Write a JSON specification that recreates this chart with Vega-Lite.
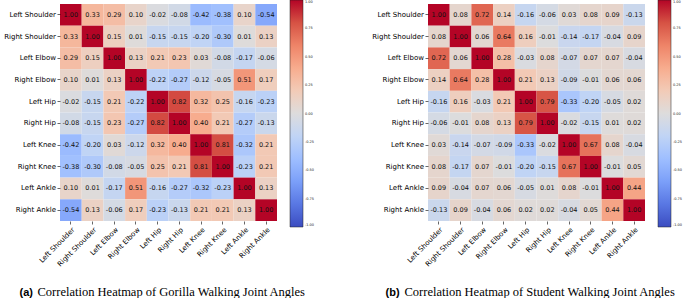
{
  "$schema": "https://vega.github.io/schema/vega-lite/v6.json",
  "padding": {"left": 3, "top": 0, "right": 0, "bottom": 0},
  "background": "white",
  "config": {
    "view": {"stroke": null},
    "locale": {"number": {"decimal": ".", "thousands": ",", "grouping": [3], "currency": ["$", ""], "minus": "-"}},
    "axis": {"labelFont": "DejaVu Sans", "labelFontSize": 7, "labelColor": "black", "tickColor": "black", "tickSize": 3, "tickWidth": 0.6, "domain": false, "labelPadding": 1.5, "grid": false},
    "concat": {"spacing": 56}
  },
  "datasets": {
    "gorilla": [
      {"r":"Left Shoulder","c":"Left Shoulder","v":1.00},{"r":"Left Shoulder","c":"Right Shoulder","v":0.33},{"r":"Left Shoulder","c":"Left Elbow","v":0.29},{"r":"Left Shoulder","c":"Right Elbow","v":0.10},{"r":"Left Shoulder","c":"Left Hip","v":-0.02},{"r":"Left Shoulder","c":"Right Hip","v":-0.08},{"r":"Left Shoulder","c":"Left Knee","v":-0.42},{"r":"Left Shoulder","c":"Right Knee","v":-0.38},{"r":"Left Shoulder","c":"Left Ankle","v":0.10},{"r":"Left Shoulder","c":"Right Ankle","v":-0.54},
      {"r":"Right Shoulder","c":"Left Shoulder","v":0.33},{"r":"Right Shoulder","c":"Right Shoulder","v":1.00},{"r":"Right Shoulder","c":"Left Elbow","v":0.15},{"r":"Right Shoulder","c":"Right Elbow","v":0.01},{"r":"Right Shoulder","c":"Left Hip","v":-0.15},{"r":"Right Shoulder","c":"Right Hip","v":-0.15},{"r":"Right Shoulder","c":"Left Knee","v":-0.20},{"r":"Right Shoulder","c":"Right Knee","v":-0.30},{"r":"Right Shoulder","c":"Left Ankle","v":0.01},{"r":"Right Shoulder","c":"Right Ankle","v":0.13},
      {"r":"Left Elbow","c":"Left Shoulder","v":0.29},{"r":"Left Elbow","c":"Right Shoulder","v":0.15},{"r":"Left Elbow","c":"Left Elbow","v":1.00},{"r":"Left Elbow","c":"Right Elbow","v":0.13},{"r":"Left Elbow","c":"Left Hip","v":0.21},{"r":"Left Elbow","c":"Right Hip","v":0.23},{"r":"Left Elbow","c":"Left Knee","v":0.03},{"r":"Left Elbow","c":"Right Knee","v":-0.08},{"r":"Left Elbow","c":"Left Ankle","v":-0.17},{"r":"Left Elbow","c":"Right Ankle","v":-0.06},
      {"r":"Right Elbow","c":"Left Shoulder","v":0.10},{"r":"Right Elbow","c":"Right Shoulder","v":0.01},{"r":"Right Elbow","c":"Left Elbow","v":0.13},{"r":"Right Elbow","c":"Right Elbow","v":1.00},{"r":"Right Elbow","c":"Left Hip","v":-0.22},{"r":"Right Elbow","c":"Right Hip","v":-0.27},{"r":"Right Elbow","c":"Left Knee","v":-0.12},{"r":"Right Elbow","c":"Right Knee","v":-0.05},{"r":"Right Elbow","c":"Left Ankle","v":0.51},{"r":"Right Elbow","c":"Right Ankle","v":0.17},
      {"r":"Left Hip","c":"Left Shoulder","v":-0.02},{"r":"Left Hip","c":"Right Shoulder","v":-0.15},{"r":"Left Hip","c":"Left Elbow","v":0.21},{"r":"Left Hip","c":"Right Elbow","v":-0.22},{"r":"Left Hip","c":"Left Hip","v":1.00},{"r":"Left Hip","c":"Right Hip","v":0.82},{"r":"Left Hip","c":"Left Knee","v":0.32},{"r":"Left Hip","c":"Right Knee","v":0.25},{"r":"Left Hip","c":"Left Ankle","v":-0.16},{"r":"Left Hip","c":"Right Ankle","v":-0.23},
      {"r":"Right Hip","c":"Left Shoulder","v":-0.08},{"r":"Right Hip","c":"Right Shoulder","v":-0.15},{"r":"Right Hip","c":"Left Elbow","v":0.23},{"r":"Right Hip","c":"Right Elbow","v":-0.27},{"r":"Right Hip","c":"Left Hip","v":0.82},{"r":"Right Hip","c":"Right Hip","v":1.00},{"r":"Right Hip","c":"Left Knee","v":0.40},{"r":"Right Hip","c":"Right Knee","v":0.21},{"r":"Right Hip","c":"Left Ankle","v":-0.27},{"r":"Right Hip","c":"Right Ankle","v":-0.13},
      {"r":"Left Knee","c":"Left Shoulder","v":-0.42},{"r":"Left Knee","c":"Right Shoulder","v":-0.20},{"r":"Left Knee","c":"Left Elbow","v":0.03},{"r":"Left Knee","c":"Right Elbow","v":-0.12},{"r":"Left Knee","c":"Left Hip","v":0.32},{"r":"Left Knee","c":"Right Hip","v":0.40},{"r":"Left Knee","c":"Left Knee","v":1.00},{"r":"Left Knee","c":"Right Knee","v":0.81},{"r":"Left Knee","c":"Left Ankle","v":-0.32},{"r":"Left Knee","c":"Right Ankle","v":0.21},
      {"r":"Right Knee","c":"Left Shoulder","v":-0.38},{"r":"Right Knee","c":"Right Shoulder","v":-0.30},{"r":"Right Knee","c":"Left Elbow","v":-0.08},{"r":"Right Knee","c":"Right Elbow","v":-0.05},{"r":"Right Knee","c":"Left Hip","v":0.25},{"r":"Right Knee","c":"Right Hip","v":0.21},{"r":"Right Knee","c":"Left Knee","v":0.81},{"r":"Right Knee","c":"Right Knee","v":1.00},{"r":"Right Knee","c":"Left Ankle","v":-0.23},{"r":"Right Knee","c":"Right Ankle","v":0.21},
      {"r":"Left Ankle","c":"Left Shoulder","v":0.10},{"r":"Left Ankle","c":"Right Shoulder","v":0.01},{"r":"Left Ankle","c":"Left Elbow","v":-0.17},{"r":"Left Ankle","c":"Right Elbow","v":0.51},{"r":"Left Ankle","c":"Left Hip","v":-0.16},{"r":"Left Ankle","c":"Right Hip","v":-0.27},{"r":"Left Ankle","c":"Left Knee","v":-0.32},{"r":"Left Ankle","c":"Right Knee","v":-0.23},{"r":"Left Ankle","c":"Left Ankle","v":1.00},{"r":"Left Ankle","c":"Right Ankle","v":0.13},
      {"r":"Right Ankle","c":"Left Shoulder","v":-0.54},{"r":"Right Ankle","c":"Right Shoulder","v":0.13},{"r":"Right Ankle","c":"Left Elbow","v":-0.06},{"r":"Right Ankle","c":"Right Elbow","v":0.17},{"r":"Right Ankle","c":"Left Hip","v":-0.23},{"r":"Right Ankle","c":"Right Hip","v":-0.13},{"r":"Right Ankle","c":"Left Knee","v":0.21},{"r":"Right Ankle","c":"Right Knee","v":0.21},{"r":"Right Ankle","c":"Left Ankle","v":0.13},{"r":"Right Ankle","c":"Right Ankle","v":1.00}
    ],
    "student": [
      {"r":"Left Shoulder","c":"Left Shoulder","v":1.00},{"r":"Left Shoulder","c":"Right Shoulder","v":0.08},{"r":"Left Shoulder","c":"Left Elbow","v":0.72},{"r":"Left Shoulder","c":"Right Elbow","v":0.14},{"r":"Left Shoulder","c":"Left Hip","v":-0.16},{"r":"Left Shoulder","c":"Right Hip","v":-0.06},{"r":"Left Shoulder","c":"Left Knee","v":0.03},{"r":"Left Shoulder","c":"Right Knee","v":0.08},{"r":"Left Shoulder","c":"Left Ankle","v":0.09},{"r":"Left Shoulder","c":"Right Ankle","v":-0.13},
      {"r":"Right Shoulder","c":"Left Shoulder","v":0.08},{"r":"Right Shoulder","c":"Right Shoulder","v":1.00},{"r":"Right Shoulder","c":"Left Elbow","v":0.06},{"r":"Right Shoulder","c":"Right Elbow","v":0.64},{"r":"Right Shoulder","c":"Left Hip","v":0.16},{"r":"Right Shoulder","c":"Right Hip","v":-0.01},{"r":"Right Shoulder","c":"Left Knee","v":-0.14},{"r":"Right Shoulder","c":"Right Knee","v":-0.17},{"r":"Right Shoulder","c":"Left Ankle","v":-0.04},{"r":"Right Shoulder","c":"Right Ankle","v":0.09},
      {"r":"Left Elbow","c":"Left Shoulder","v":0.72},{"r":"Left Elbow","c":"Right Shoulder","v":0.06},{"r":"Left Elbow","c":"Left Elbow","v":1.00},{"r":"Left Elbow","c":"Right Elbow","v":0.28},{"r":"Left Elbow","c":"Left Hip","v":-0.03},{"r":"Left Elbow","c":"Right Hip","v":0.08},{"r":"Left Elbow","c":"Left Knee","v":-0.07},{"r":"Left Elbow","c":"Right Knee","v":0.07},{"r":"Left Elbow","c":"Left Ankle","v":0.07},{"r":"Left Elbow","c":"Right Ankle","v":-0.04},
      {"r":"Right Elbow","c":"Left Shoulder","v":0.14},{"r":"Right Elbow","c":"Right Shoulder","v":0.64},{"r":"Right Elbow","c":"Left Elbow","v":0.28},{"r":"Right Elbow","c":"Right Elbow","v":1.00},{"r":"Right Elbow","c":"Left Hip","v":0.21},{"r":"Right Elbow","c":"Right Hip","v":0.13},{"r":"Right Elbow","c":"Left Knee","v":-0.09},{"r":"Right Elbow","c":"Right Knee","v":-0.01},{"r":"Right Elbow","c":"Left Ankle","v":0.06},{"r":"Right Elbow","c":"Right Ankle","v":0.06},
      {"r":"Left Hip","c":"Left Shoulder","v":-0.16},{"r":"Left Hip","c":"Right Shoulder","v":0.16},{"r":"Left Hip","c":"Left Elbow","v":-0.03},{"r":"Left Hip","c":"Right Elbow","v":0.21},{"r":"Left Hip","c":"Left Hip","v":1.00},{"r":"Left Hip","c":"Right Hip","v":0.79},{"r":"Left Hip","c":"Left Knee","v":-0.33},{"r":"Left Hip","c":"Right Knee","v":-0.20},{"r":"Left Hip","c":"Left Ankle","v":-0.05},{"r":"Left Hip","c":"Right Ankle","v":0.02},
      {"r":"Right Hip","c":"Left Shoulder","v":-0.06},{"r":"Right Hip","c":"Right Shoulder","v":-0.01},{"r":"Right Hip","c":"Left Elbow","v":0.08},{"r":"Right Hip","c":"Right Elbow","v":0.13},{"r":"Right Hip","c":"Left Hip","v":0.79},{"r":"Right Hip","c":"Right Hip","v":1.00},{"r":"Right Hip","c":"Left Knee","v":-0.02},{"r":"Right Hip","c":"Right Knee","v":-0.15},{"r":"Right Hip","c":"Left Ankle","v":0.01},{"r":"Right Hip","c":"Right Ankle","v":0.02},
      {"r":"Left Knee","c":"Left Shoulder","v":0.03},{"r":"Left Knee","c":"Right Shoulder","v":-0.14},{"r":"Left Knee","c":"Left Elbow","v":-0.07},{"r":"Left Knee","c":"Right Elbow","v":-0.09},{"r":"Left Knee","c":"Left Hip","v":-0.33},{"r":"Left Knee","c":"Right Hip","v":-0.02},{"r":"Left Knee","c":"Left Knee","v":1.00},{"r":"Left Knee","c":"Right Knee","v":0.67},{"r":"Left Knee","c":"Left Ankle","v":0.08},{"r":"Left Knee","c":"Right Ankle","v":-0.04},
      {"r":"Right Knee","c":"Left Shoulder","v":0.08},{"r":"Right Knee","c":"Right Shoulder","v":-0.17},{"r":"Right Knee","c":"Left Elbow","v":0.07},{"r":"Right Knee","c":"Right Elbow","v":-0.01},{"r":"Right Knee","c":"Left Hip","v":-0.20},{"r":"Right Knee","c":"Right Hip","v":-0.15},{"r":"Right Knee","c":"Left Knee","v":0.67},{"r":"Right Knee","c":"Right Knee","v":1.00},{"r":"Right Knee","c":"Left Ankle","v":-0.01},{"r":"Right Knee","c":"Right Ankle","v":0.05},
      {"r":"Left Ankle","c":"Left Shoulder","v":0.09},{"r":"Left Ankle","c":"Right Shoulder","v":-0.04},{"r":"Left Ankle","c":"Left Elbow","v":0.07},{"r":"Left Ankle","c":"Right Elbow","v":0.06},{"r":"Left Ankle","c":"Left Hip","v":-0.05},{"r":"Left Ankle","c":"Right Hip","v":0.01},{"r":"Left Ankle","c":"Left Knee","v":0.08},{"r":"Left Ankle","c":"Right Knee","v":-0.01},{"r":"Left Ankle","c":"Left Ankle","v":1.00},{"r":"Left Ankle","c":"Right Ankle","v":0.44},
      {"r":"Right Ankle","c":"Left Shoulder","v":-0.13},{"r":"Right Ankle","c":"Right Shoulder","v":0.09},{"r":"Right Ankle","c":"Left Elbow","v":-0.04},{"r":"Right Ankle","c":"Right Elbow","v":0.06},{"r":"Right Ankle","c":"Left Hip","v":0.02},{"r":"Right Ankle","c":"Right Hip","v":0.02},{"r":"Right Ankle","c":"Left Knee","v":-0.04},{"r":"Right Ankle","c":"Right Knee","v":0.05},{"r":"Right Ankle","c":"Left Ankle","v":0.44},{"r":"Right Ankle","c":"Right Ankle","v":1.00}
    ]
  },
  "hconcat": [
    {
      "width": 217, "height": 217,
      "data": {"name": "gorilla"},
      "encoding": {
        "x": {"field": "c", "type": "nominal", "sort": ["Left Shoulder","Right Shoulder","Left Elbow","Right Elbow","Left Hip","Right Hip","Left Knee","Right Knee","Left Ankle","Right Ankle"], "scale": {"paddingInner": 0, "paddingOuter": 0},
          "axis": {"labelAngle": -45, "title": "Correlation Heatmap of Gorilla Walking Joint Angles", "titleFont": "Liberation Serif", "titleFontSize": 12.5, "titleFontWeight": "normal", "titleColor": "#000", "titleX": -23, "titleY": 74, "titleAlign": "left", "titleBaseline": "alphabetic"}},
        "y": {"field": "r", "type": "nominal", "sort": ["Left Shoulder","Right Shoulder","Left Elbow","Right Elbow","Left Hip","Right Hip","Left Knee","Right Knee","Left Ankle","Right Ankle"], "scale": {"paddingInner": 0, "paddingOuter": 0},
          "axis": {"title": "(a)", "titleAngle": 0, "titleX": -41, "titleY": 291, "titleAlign": "left", "titleBaseline": "alphabetic", "titleFont": "Liberation Sans", "titleFontWeight": "bold", "titleFontSize": 11, "titleColor": "#000"}}
      },
      "layer": [
        {"mark": {"type": "rect"},
         "encoding": {"color": {"field": "v", "type": "quantitative",
           "scale": {"domain": [-1,-0.8,-0.6,-0.4,-0.2,0,0.2,0.4,0.6,0.8,1], "range": ["#3b4cc0","#5977e3","#7b9ff9","#9ebeff","#c0d4f5","#dddcdc","#f2cbb7","#f7ac8e","#ee8468","#d65244","#b40426"], "interpolate": "rgb"},
           "legend": {"orient": "none", "legendX": 230, "legendY": -4, "direction": "vertical", "title": null, "gradientLength": 227, "gradientThickness": 13, "gradientStrokeColor": "#222", "gradientStrokeWidth": 0.5, "labelFontSize": 3.5, "labelFont": "DejaVu Sans", "labelColor": "#222", "labelOffset": 2, "labelOverlap": false, "values": [-1,-0.75,-0.5,-0.25,0,0.25,0.5,0.75,1], "format": ".2f"}}}},
        {"mark": {"type": "text", "font": "DejaVu Sans", "fontSize": 6.5, "color": "#111"},
         "encoding": {"text": {"field": "v", "type": "quantitative", "format": ".2f"}}}
      ]
    },
    {
      "width": 217, "height": 217,
      "data": {"name": "student"},
      "encoding": {
        "x": {"field": "c", "type": "nominal", "sort": ["Left Shoulder","Right Shoulder","Left Elbow","Right Elbow","Left Hip","Right Hip","Left Knee","Right Knee","Left Ankle","Right Ankle"], "scale": {"paddingInner": 0, "paddingOuter": 0},
          "axis": {"labelAngle": -45, "title": "Correlation Heatmap of Student Walking Joint Angles", "titleFont": "Liberation Serif", "titleFontSize": 12.5, "titleFontWeight": "normal", "titleColor": "#000", "titleX": -24, "titleY": 74, "titleAlign": "left", "titleBaseline": "alphabetic"}},
        "y": {"field": "r", "type": "nominal", "sort": ["Left Shoulder","Right Shoulder","Left Elbow","Right Elbow","Left Hip","Right Hip","Left Knee","Right Knee","Left Ankle","Right Ankle"], "scale": {"paddingInner": 0, "paddingOuter": 0},
          "axis": {"title": "(b)", "titleAngle": 0, "titleX": -43, "titleY": 291, "titleAlign": "left", "titleBaseline": "alphabetic", "titleFont": "Liberation Sans", "titleFontWeight": "bold", "titleFontSize": 11, "titleColor": "#000"}}
      },
      "layer": [
        {"mark": {"type": "rect"},
         "encoding": {"color": {"field": "v", "type": "quantitative",
           "scale": {"domain": [-1,-0.8,-0.6,-0.4,-0.2,0,0.2,0.4,0.6,0.8,1], "range": ["#3b4cc0","#5977e3","#7b9ff9","#9ebeff","#c0d4f5","#dddcdc","#f2cbb7","#f7ac8e","#ee8468","#d65244","#b40426"], "interpolate": "rgb"},
           "legend": {"orient": "none", "legendX": 230, "legendY": -4, "direction": "vertical", "title": null, "gradientLength": 227, "gradientThickness": 13, "gradientStrokeColor": "#222", "gradientStrokeWidth": 0.5, "labelFontSize": 3.5, "labelFont": "DejaVu Sans", "labelColor": "#222", "labelOffset": 2, "labelOverlap": false, "values": [-1,-0.75,-0.5,-0.25,0,0.25,0.5,0.75,1], "format": ".2f"}}}},
        {"mark": {"type": "text", "font": "DejaVu Sans", "fontSize": 6.5, "color": "#111"},
         "encoding": {"text": {"field": "v", "type": "quantitative", "format": ".2f"}}}
      ]
    }
  ],
  "resolve": {"scale": {"color": "independent"}}
}
